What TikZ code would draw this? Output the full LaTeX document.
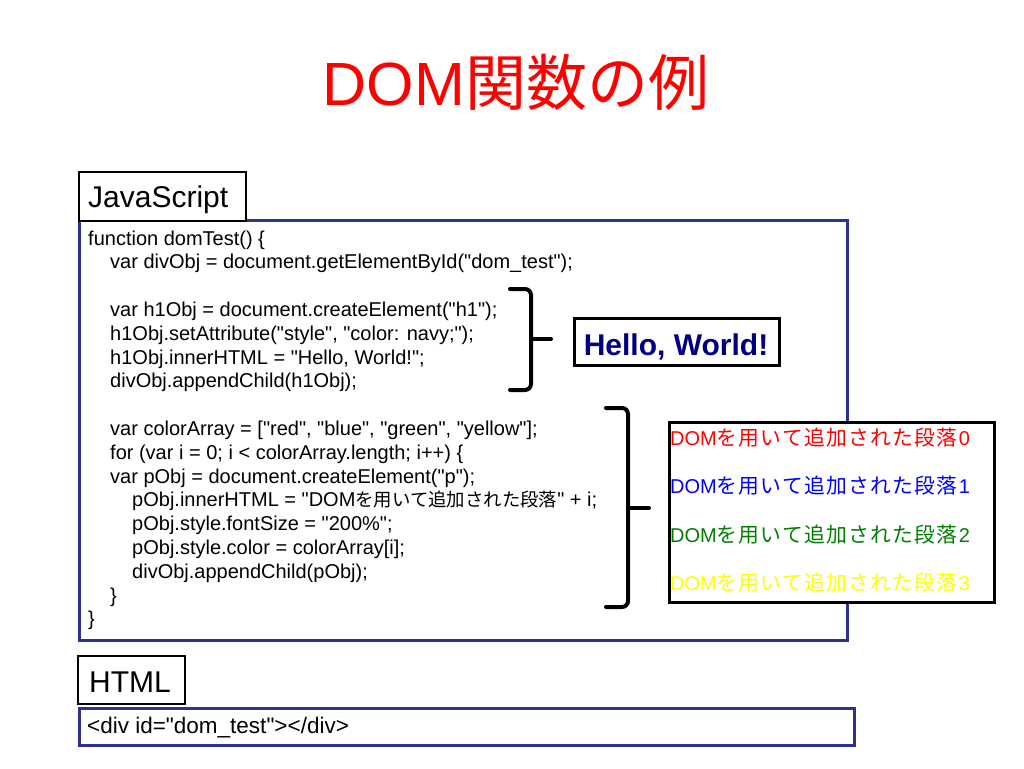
\documentclass[tikz,border=0pt]{standalone}
\usepackage{fontspec}
\setmainfont{Liberation Sans}[Ligatures=TeXOff]
\newfontfamily\cjk{Noto Sans CJK JP}
\newfontfamily\cjkc{Noto Sans CJK JP}[Scale=0.92]
\newfontfamily\cjkp{Noto Sans CJK JP}[Scale=1.04]
\newcommand\jp[1]{{\cjk #1}}
\newcommand\jpc[1]{{\cjkc #1}}
\def\spacedchars#1{\ifx#1\relax\else#1\kern1.2pt\expandafter\spacedchars\fi}
\newcommand\jpp[1]{{\cjkp\spacedchars#1\relax}}
\definecolor{boxnavy}{RGB}{46,49,146}
\definecolor{hwnavy}{RGB}{0,0,128}
\definecolor{pred}{RGB}{255,0,0}
\definecolor{pblue}{RGB}{0,0,255}
\definecolor{pgreen}{RGB}{0,128,0}
\definecolor{pyellow}{RGB}{255,255,0}
\begin{document}
\begin{tikzpicture}[x=1pt,y=-1pt,
  codebox/.style={draw=boxnavy, line width=2.5pt, fill=white, anchor=north west, inner sep=0pt},
  labelbox/.style={draw=black, line width=2pt, fill=white, anchor=north west, inner sep=0pt},
  labeltext/.style={anchor=base west, inner sep=0pt, font=\fontsize{30}{36}\selectfont},
  code/.style={anchor=base west, inner sep=0pt, font=\fontsize{20}{24}\selectfont},
  para/.style={anchor=base west, inner sep=0pt, font=\fontsize{20}{24}\selectfont},
  brace/.style={line width=4pt, line cap=round, line join=round, rounded corners=6pt},
  resultbox/.style={draw=black, line width=3pt, fill=white, anchor=north west, inner sep=0pt}]
\useasboundingbox (0,0) rectangle (1024,768);
\fill[white] (0,0) rectangle (1024,768);

% title
\node[anchor=base, inner sep=0pt, text=pred, font=\fontsize{61}{70}\selectfont] (title) at (516,105) {DOM\jp{関数の例}};

% JavaScript box
\node[codebox, minimum width=768pt, minimum height=420pt] (jsbox) at (78,219) {};
\node[labelbox, minimum width=167pt, minimum height=49pt] (jslabel) at (78,171) {};
\node[labeltext] (jstext) at (88,207) {JavaScript};

\node[code] (c1)  at (88,245)   {function domTest() \{};
\node[code] (c2)  at (110,268.8) {var divObj = document.getElementById("dom\_test");};
\node[code] (c3)  at (110,316.4) {var h1Obj = document.createElement("h1");};
\node[code] (c4)  at (110,340.2) {h1Obj.setAttribute("style", "color: navy;");};
\node[code] (c5)  at (110,364)   {h1Obj.innerHTML = "Hello, World!";};
\node[code] (c6)  at (110,387.8) {divObj.appendChild(h1Obj);};
\node[code] (c7)  at (110,435.4) {var colorArray = ["red", "blue", "green", "yellow"];};
\node[code] (c8)  at (110,459.2) {for (var i = 0; i < colorArray.length; i++) \{};
\node[code] (c9)  at (110,483)   {var pObj = document.createElement("p");};
\node[code] (c10) at (132,506.8) {pObj.innerHTML = "DOM\jpc{を用いて追加された段落}" + i;};
\node[code] (c11) at (132,530.6) {pObj.style.fontSize = "200\%";};
\node[code] (c12) at (132,554.4) {pObj.style.color = colorArray[i];};
\node[code] (c13) at (132,578.2) {divObj.appendChild(pObj);};
\node[code] (c14) at (110,602)   {\}};
\node[code] (c15) at (88,625.8)  {\}};

% braces
\coordinate (b1top) at (510,289);
\coordinate (b1bot) at (510,390);
\coordinate (b1mid) at (531,339);
\coordinate (b1tip) at (551,339);
\draw[brace] (b1top) -- (531,289) -- (531,390) -- (b1bot);
\draw[line width=4pt, line cap=round] (b1mid) -- (b1tip);

\coordinate (b2top) at (606,408);
\coordinate (b2bot) at (606,607);
\coordinate (b2mid) at (628,508);
\coordinate (b2tip) at (649,508);
\draw[brace] (b2top) -- (628,408) -- (628,607) -- (b2bot);
\draw[line width=4pt, line cap=round] (b2mid) -- (b2tip);

% Hello World result
\node[resultbox, minimum width=205pt, minimum height=47pt] (hello) at (573,317) {};
\node[anchor=base, inner sep=0pt, text=hwnavy, font=\fontsize{30}{36}\selectfont\bfseries] (hellotext) at (676,355) {Hello, World!};

% paragraphs result
\node[resultbox, minimum width=325pt, minimum height=180pt] (paras) at (668,421) {};
\node[para, text=pred]    (p0) at (670,445)   {DOM\jpp{を用いて追加された段落}0};
\node[para, text=pblue]   (p1) at (670,493.5) {DOM\jpp{を用いて追加された段落}1};
\node[para, text=pgreen]  (p2) at (670,542)   {DOM\jpp{を用いて追加された段落}2};
\node[para, text=pyellow] (p3) at (670,590.5) {DOM\jpp{を用いて追加された段落}3};

% HTML
\node[labelbox, minimum width=107pt, minimum height=48pt] (htmllabel) at (77,655) {};
\node[labeltext] (htmltext) at (89,692) {HTML};
\node[codebox, minimum width=775pt, minimum height=37pt] (htmlbox) at (78,707) {};
\node[anchor=base west, inner sep=0pt, font=\fontsize{22.5}{27}\selectfont] (htmlcode) at (87,733) {<div id="dom\_test"></div>};
\end{tikzpicture}
\end{document}
